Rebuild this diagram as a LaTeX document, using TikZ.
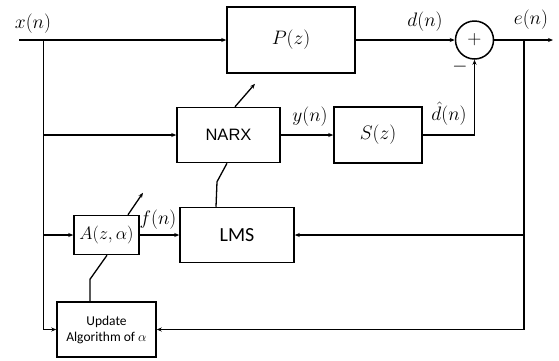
\RequirePackage{fix-cm}
\documentclass[tikz,border=0pt]{standalone}
\usepackage{fontspec}
\setmainfont{Carlito}
\newfontfamily\arialf{Liberation Sans}
\usetikzlibrary{arrows.meta}
\begin{document}
\begin{tikzpicture}[x=1pt,y=-1pt,line width=1.3pt,
  box/.style={draw,line width=1.5pt,inner sep=0pt},
  arr/.style={-{Stealth[length=5pt,width=4pt]}},
  mfont/.style={font=\fontsize{19.5}{22}\selectfont},
  lbl/.style={inner sep=0pt,mfont}]
\useasboundingbox (0,0) rectangle (559,360);
% blocks
\node[box,minimum width=128pt,minimum height=66pt,mfont] (P) at (291,40) {$P(z)$};
\node[box,minimum width=103pt,minimum height=55pt,font=\arialf\fontsize{16.5}{20}\selectfont] (NARX) at (228.5,135) {NARX};
\node[box,minimum width=88pt,minimum height=56pt,mfont] (S) at (378,135) {$S(z)$};
\node[box,circle,minimum size=38pt,mfont] (sum) at (474.5,40) {$+$};
\node[box,minimum width=114pt,minimum height=55pt,font=\fontsize{20}{24}\selectfont] (LMS) at (237,235) {LMS};
\node[box,minimum width=65pt,minimum height=39pt,font=\fontsize{18}{20}\selectfont] (A) at (106.5,235) {$A(z,\alpha)$};
\node[box,minimum width=99pt,minimum height=55pt,align=center,font=\fontsize{13.5}{16}\selectfont] (Up) at (106.5,329.5) {Update\\Algorithm of $\alpha$};
% coordinates
\coordinate (xin) at (19,40);
\coordinate (tr) at (43.5,40);
\coordinate (eout) at (553,40);
\coordinate (ej) at (524,40);
% input distribution
\draw[arr] (xin) -- (P.west);
\draw[arr] (tr) |- (Up.west);
\draw[arr] (NARX.west -| tr) -- (NARX.west);
\draw[arr] (A.west -| tr) -- (A.west);
% forward paths
\draw[arr] (P.east) -- (sum.west);
\draw[arr] (NARX.east) -- (S.west);
\draw[arr] (S.east) -| (sum.south);
\draw[arr] (sum.east) -- (eout);
\draw[arr] (A.east) -- (LMS.west);
% error feedback
\draw[arr] (ej) |- (Up.east);
\draw[arr] (LMS.east -| ej) -- (LMS.east);
% adaptation links
\draw ([xshift=-21pt]LMS.north) -- ++(1,-25) -- ([xshift=-1.5pt]NARX.south);
\draw ([xshift=-16.5pt]Up.north) -- ++(0,-22) -- ([xshift=0.5pt]A.south);
\draw[arr] ([xshift=6.5pt]NARX.north) -- ++(20,-23);
\draw[arr] ([xshift=21.5pt]A.north) -- ++(15,-22);
% labels
\node[lbl] at (33,24) {$x(n)$};
\node[lbl] at (425,22) {$d(n)$};
\node[lbl] at (531,20) {$e(n)$};
\node[lbl] at (310,117) {$y(n)$};
\node[lbl] at (449,114) {$\hat{d}(n)$};
\node[lbl] at (460,67) {$-$};
\node[lbl] at (158,220) {$f(n)$};
\end{tikzpicture}
\end{document}
